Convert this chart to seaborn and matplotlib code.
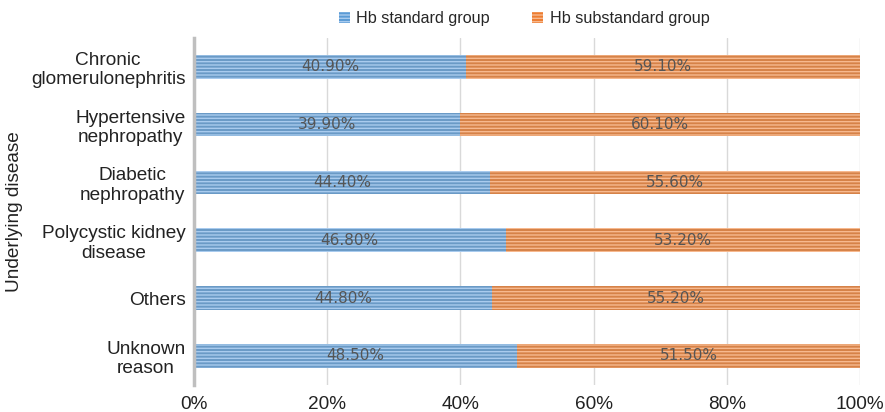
import matplotlib
matplotlib.use("Agg")
import matplotlib.pyplot as plt
import seaborn as sns
import pandas as pd
from matplotlib.patches import Patch
from matplotlib.ticker import FuncFormatter

# data
diseases = ["Chronic\nglomerulonephritis", "Hypertensive\nnephropathy", "Diabetic\nnephropathy",
            "Polycystic kidney\ndisease", "Others", "Unknown\nreason"]
standard = [40.9, 39.9, 44.4, 46.8, 44.8, 48.5]
substandard = [59.1, 60.1, 55.6, 53.2, 55.2, 51.5]

df = pd.DataFrame({"disease": diseases, "standard": standard, "substandard": substandard})
df["total"] = df["standard"] + df["substandard"]

sns.set_style("white")
plt.rcParams["font.family"] = ["Liberation Sans", "DejaVu Sans"]
plt.rcParams["hatch.linewidth"] = 1.0

blue = "#5b9bd5"
blue_h = "#a9cbee"
orange = "#ed7d31"
orange_h = "#f7b98f"

fig = plt.figure(figsize=(8.85, 4.12), dpi=100)
ax = fig.add_axes([0.219, 0.066, 0.753, 0.842])

sns.barplot(data=df, y="disease", x="total", orient="h", color=orange, width=0.41, ax=ax)
n = len(ax.patches)
sns.barplot(data=df, y="disease", x="standard", orient="h", color=blue, width=0.41, ax=ax)

for i, p in enumerate(ax.patches):
    hc = orange_h if i < n else blue_h
    p.set_hatch("-----")
    p.set_edgecolor(hc)
    p.set_linewidth(0)

# value labels centred in each segment
for i, row in df.iterrows():
    ax.text(row["standard"] / 2, i, f"{row['standard']:.2f}%", ha="center", va="center",
            fontsize=11, color="#555555", family="DejaVu Sans")
    ax.text(row["standard"] + row["substandard"] / 2, i, f"{row['substandard']:.2f}%",
            ha="center", va="center", fontsize=11, color="#555555", family="DejaVu Sans")

ax.set_xlim(0, 100)
ax.set_ylim(5.5, -0.5)
ax.set_xticks([0, 20, 40, 60, 80, 100])
ax.xaxis.set_major_formatter(FuncFormatter(lambda v, _: f"{v:.0f}%"))
ax.grid(axis="x", color="#d9d9d9", linewidth=1)
ax.set_axisbelow(True)
for s in ["top", "right", "bottom"]:
    ax.spines[s].set_visible(False)
ax.spines["left"].set_color("#bfbfbf")
ax.spines["left"].set_linewidth(2.5)
ax.tick_params(axis="both", length=0, labelsize=13.7, colors="#222222")
ax.tick_params(axis="x", pad=8)
ax.tick_params(axis="y", pad=6)
for lbl in ax.get_yticklabels():
    lbl.set_multialignment("center")
ax.set_xlabel("")
ax.set_ylabel("Underlying disease", fontsize=13.7, color="#222222", labelpad=6)

handles = [Patch(facecolor=blue, edgecolor=blue_h, hatch="-----", linewidth=0, label="Hb standard group"),
           Patch(facecolor=orange, edgecolor=orange_h, hatch="-----", linewidth=0, label="Hb substandard group")]
fig.legend(handles=handles, loc="center", bbox_to_anchor=(0.592, 0.955), ncol=2, frameon=False,
           fontsize=11.6, handlelength=0.7, handleheight=0.7, handletextpad=0.4, columnspacing=2.6)

fig.savefig("out.png", dpi=100)
